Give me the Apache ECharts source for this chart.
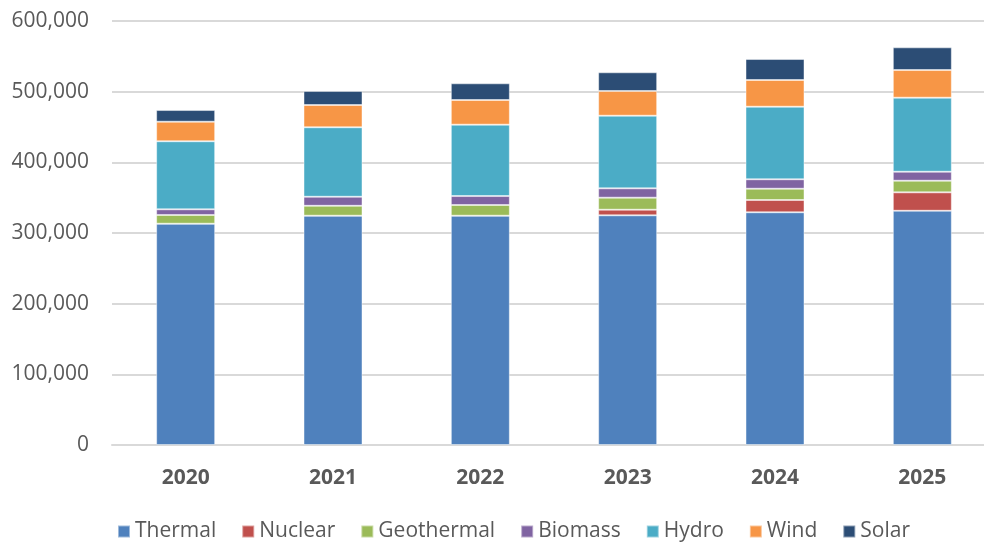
<!DOCTYPE html>
<html>
<head>
<meta charset="utf-8">
<script src="https://cdn.jsdelivr.net/npm/echarts@6/dist/echarts.min.js"></script>
<style>
html,body{margin:0;padding:0;background:#fff;overflow:hidden;width:984px;height:542px;}
#chart{width:1000px;height:542px;}
</style>
</head>
<body>
<div id="chart"></div>
<script>
const years = ['2020', '2021', '2022', '2023', '2024', '2025'];
const thermal    = [313200, 324500, 324500, 325000, 329300, 331500];
const nuclear    = [0, 0, 0, 8000, 17400, 26000];
const geothermal = [12300, 14000, 15100, 17000, 16000, 16500];
const biomass    = [8000, 12800, 12700, 13200, 13300, 12700];
const hydro      = [96300, 98300, 101000, 102800, 102700, 104800];
const wind       = [27700, 31500, 34900, 34900, 37800, 39100];
const solar      = [16500, 19800, 23600, 26500, 29700, 32100];
const yTicks = [0, 100000, 200000, 300000, 400000, 500000, 600000];

const seriesDefs = [
  ['Thermal', thermal, '#4F81BD'],
  ['Nuclear', nuclear, '#C0504D'],
  ['Geothermal', geothermal, '#9BBB59'],
  ['Biomass', biomass, '#8064A2'],
  ['Hydro', hydro, '#4BACC6'],
  ['Wind', wind, '#F79646'],
  ['Solar', solar, '#2C4D75']
];

const chart = echarts.init(document.getElementById('chart'), null, {renderer: 'canvas'});
const font = "'Open Sans', 'DejaVu Sans', sans-serif";
chart.setOption({
  animation: false,
  textStyle: {fontFamily: font},
  grid: {left: 112, top: 21, width: 884, height: 424, containLabel: false},
  legend: {
    top: 516,
    left: 112,
    itemWidth: 12,
    itemHeight: 12,
    itemGap: 25,
    icon: 'rect',
    textStyle: {fontSize: 21, color: '#595959', fontFamily: font},
    data: seriesDefs.map(s => s[0])
  },
  xAxis: {
    type: 'category',
    data: years,
    axisLine: {show: true, lineStyle: {color: '#D9D9D9', width: 2}},
    axisTick: {show: false},
    axisLabel: {fontSize: 21, fontWeight: 'bold', color: '#595959', margin: 23, fontFamily: font}
  },
  yAxis: {
    type: 'value',
    min: yTicks[0],
    max: yTicks[yTicks.length - 1],
    interval: yTicks[1] - yTicks[0],
    axisLine: {show: false},
    axisTick: {show: false},
    splitLine: {lineStyle: {color: '#D9D9D9', width: 2}},
    axisLabel: {
      fontSize: 21, color: '#595959', margin: 23, fontFamily: font,
      formatter: v => v.toLocaleString('en-US')
    }
  },
  series: seriesDefs.map(([name, data, color]) => ({
    name: name,
    type: 'bar',
    stack: 'total',
    data: data,
    barWidth: 59,
    itemStyle: {color: color, borderColor: 'rgba(255,255,255,0.45)', borderWidth: 1}
  }))
});
</script>
</body>
</html>
